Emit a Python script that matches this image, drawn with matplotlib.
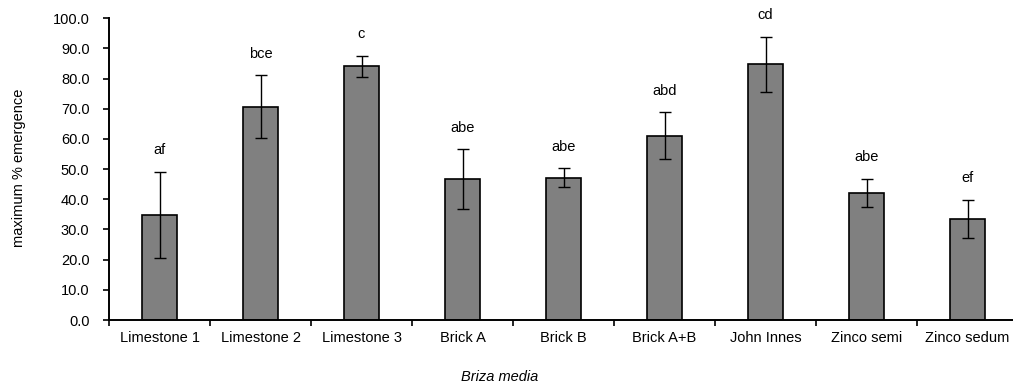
import matplotlib
matplotlib.use('Agg')
import matplotlib.pyplot as plt
import numpy as np

plt.rcParams['font.family'] = ['Liberation Sans', 'DejaVu Sans']

# data
media = ['Limestone 1', 'Limestone 2', 'Limestone 3', 'Brick A', 'Brick B',
         'Brick A+B', 'John Innes', 'Zinco semi', 'Zinco sedum']
emergence = [34.8, 70.7, 84.1, 46.7, 47.1, 61.1, 84.7, 42.1, 33.5]
errors = [14.2, 10.4, 3.5, 9.9, 3.15, 7.7, 9.2, 4.6, 6.4]
letters = ['af', 'bce', 'c', 'abe', 'abe', 'abd', 'cd', 'abe', 'ef']

fs = 10.5

fig = plt.figure(figsize=(10.13, 3.85), dpi=100)
ax = fig.add_axes([109/1013, 1 - 320/385, 909/1013, 301.7/385])

x = np.arange(len(media))
ax.bar(x, emergence, width=0.34, color='#808080', edgecolor='black',
       linewidth=1.2, zorder=2)
ax.errorbar(x, emergence, yerr=errors, fmt='none', ecolor='black',
            elinewidth=1, capsize=4.3, capthick=1, zorder=3)

for xi, m, e, lab in zip(x, emergence, errors, letters):
    ax.text(xi, m + e + 7.2, lab, ha='center', va='center', fontsize=fs)

ax.set_xlim(-0.5, len(media) - 0.5)
ax.set_ylim(0, 100)
ax.set_yticks(np.arange(0, 101, 10))
ax.set_yticklabels([f'{v:.1f}' for v in np.arange(0, 101, 10)], fontsize=fs)

# excel-style ticks between categories, labels at centres
ax.set_xticks(np.arange(-0.5, len(media), 1.0))
ax.set_xticklabels([])
ax.set_xticks(x, minor=True)
ax.set_xticklabels(media, minor=True, fontsize=fs)
ax.tick_params(axis='x', which='major', direction='out', length=4, width=1.2)
ax.tick_params(axis='x', which='minor', length=0, pad=8)
ax.tick_params(axis='y', direction='out', length=4, width=1.2, pad=10)

for s in ['top', 'right']:
    ax.spines[s].set_visible(False)
for s in ['left', 'bottom']:
    ax.spines[s].set_linewidth(1.4)

fig.text(19/1013, 1 - 168/385, 'maximum % emergence', rotation=90,
         fontsize=fs, ha='center', va='center')
fig.text(500/1013, 1 - 377/385, 'Briza media', style='italic', fontsize=fs,
         ha='center', va='center')

fig.savefig('out.png', dpi=100)
